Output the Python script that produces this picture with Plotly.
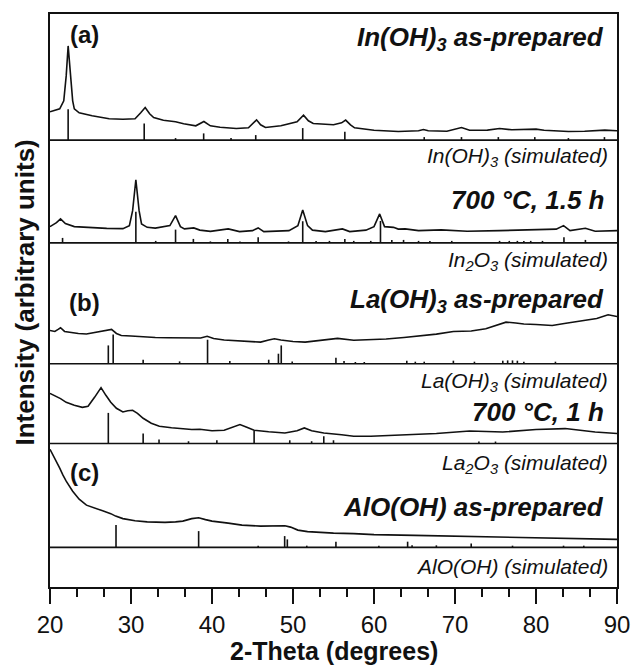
import plotly.graph_objects as go

# ---------------- data (2-theta in degrees, intensity above panel baseline, arb. units) -------------
# Panel baselines (arbitrary vertical offsets of the stacked patterns)
baselines = [447.7, 344.7, 223.7, 143.7, 39.7]
y_top = 574

# In(OH)3 as-prepared  (measured)
inoh_tt = [20.0, 21.2, 21.7, 22.0, 22.24, 22.5, 22.8, 23.0, 23.6, 25.2, 27.3, 29.0, 30.5, 31.2, 31.75, 32.3,
           32.8, 34.0, 35.5, 36.5, 38.0, 39.0, 39.8, 41.0, 43.0, 44.5, 45.0, 45.5, 46.0, 46.6, 48.5, 50.5,
           51.3, 51.9, 52.5, 55.0, 56.0, 56.5, 57.1, 57.6, 60.0, 63.0, 65.5, 66.1, 66.7, 69.0, 70.8, 71.8,
           74.0, 75.5, 77.0, 80.0, 81.0, 84.0, 86.0, 88.5, 90.0]
inoh_py = [111, 108, 100, 75, 45, 75, 100, 108, 112, 115, 118, 118.5, 118, 112, 106.7, 113,
           116.7, 119.5, 121, 123, 125, 120.7, 125, 126.5, 127.7, 127, 123, 119, 124, 126.7, 125, 121,
           114.3, 120, 122.7, 124, 122, 119.3, 124, 127, 129.5, 130.7, 130, 128.7, 130, 130.5, 126.7, 129.5,
           129.3, 127.7, 129, 128.3, 129.5, 130.7, 130.5, 129.3, 130]
inoh_int = [139.3 - v for v in inoh_py]
inoh_sim_tt = [22.24, 31.63, 35.5, 38.97, 42.35, 45.4, 51.2, 56.4, 66.2, 70.8, 75.35, 79.85, 84.0, 88.45]
inoh_sim_int = [31, 16.7, 2, 6.7, 2, 5, 12, 8.3, 3, 3, 3, 3, 2, 3]

# 700 C, 1.5 h  (In2O3)
in700_tt = [20.0, 20.8, 21.3, 21.9, 23.0, 25.0, 27.0, 29.0, 29.8, 30.2, 30.6, 31.0, 31.3, 32.0, 33.0, 34.8,
            35.5, 36.1, 36.6, 37.75, 38.5, 39.8, 42.0, 43.4, 45.0, 45.7, 46.4, 49.5, 50.6, 51.2, 51.8, 52.4,
            54.0, 56.1, 57.0, 59.0, 60.0, 60.7, 61.3, 62.4, 63.0, 63.85, 65.5, 68.3, 71.5, 75.5, 79.5, 82.5,
            83.4, 84.2, 86.1, 87.3, 90.0]
in700_py = [226, 222, 218.3, 223, 226, 227, 227.7, 228, 225, 210, 179, 210, 223.3, 226.7, 227.5, 225,
            215, 226, 228.3, 227.3, 229.5, 230.7, 228.3, 231, 230, 227.3, 231, 230, 225, 209.3, 225, 229.5,
            231, 228.3, 231, 229.5, 226, 213.3, 226, 226.7, 228.5, 228.3, 230, 229.3, 230.7, 230, 229.3, 228.5,
            225, 230, 227.7, 230.7, 230]
in700_int = [242.3 - v for v in in700_py]
in2o3_sim_tt = [21.55, 30.6, 33.05, 35.5, 37.7, 39.8, 41.95, 43.45, 45.7, 49.45, 51.2, 52.85, 54.5, 56.4,
                57.5, 59.6, 60.8, 62.2, 63.65, 65.5, 66.9, 69.6, 75.5, 76.7, 77.7, 78.5, 79.35, 80.8, 83.45, 86.1]
in2o3_sim_int = [5, 31.3, 2, 13.3, 4, 1.5, 4, 1.5, 5.7, 1.5, 21.7, 2, 2, 4,
                 2, 2, 22, 3, 3, 2, 2, 2, 2, 2, 2, 2, 2, 2, 5.7, 3]

# La(OH)3 as-prepared
laoh_tt = [20.0, 20.6, 21.0, 21.3, 21.8, 22.5, 23.5, 24.5, 25.5, 26.3, 27.0, 27.6, 28.2, 28.8, 30.0, 31.5,
           33.0, 34.5, 36.0, 37.5, 38.6, 39.4, 40.2, 41.5, 43.0, 44.5, 46.0, 47.0, 47.7, 48.5, 50.0, 51.5,
           53.0, 54.5, 55.5, 57.5, 59.6, 61.5, 63.7, 65.5, 67.7, 69.8, 72.0, 73.8, 75.0, 76.3, 77.5, 78.5,
           80.0, 82.0, 83.5, 85.0, 86.1, 87.5, 88.9, 90.0]
laoh_py = [330, 331, 329, 327.3, 331, 332, 333, 333.5, 332, 330.5, 329.3, 329, 333, 335, 335.5, 336.5,
           337, 337.3, 337.5, 337.8, 337.5, 335.8, 338, 339.5, 340, 341, 341.7, 339.5, 338.3, 339.5, 341, 341.7,
           340.5, 339, 338, 339.8, 339.5, 338.5, 337, 335.5, 333.7, 331, 330.5, 328.3, 325, 321.7, 322.5, 323.5,
           324, 325, 323, 321, 319.3, 318, 314.3, 316]
laoh_int = [363.3 - v for v in laoh_py]
laoh_sim_tt = [27.2, 27.8, 31.5, 36.0, 39.45, 42.2, 47.0, 48.2, 48.55, 49.9, 55.3, 56.3, 57.7, 58.8,
               64.05, 65.1, 66.2, 69.8, 72.4, 75.9, 76.5, 77.1, 77.7, 78.5, 82.4]
laoh_sim_int = [18.3, 29.3, 4, 2.3, 24, 2.7, 4, 10, 18.3, 2.3, 6, 2.7, 1.7, 1.7,
                3, 2, 2, 3, 2, 3, 3.3, 3.3, 3, 2, 2]

# 700 C, 1 h  (La2O3)
la700_tt = [20.0, 21.0, 21.3, 22.0, 23.0, 24.0, 24.7, 25.5, 26.3, 26.9, 27.5, 28.2, 29.0, 29.6, 30.2, 30.8,
            31.5, 32.5, 33.5, 35.0, 36.5, 37.5, 38.5, 40.0, 41.5, 42.5, 43.45, 44.3, 45.2, 47.0, 49.0, 50.5,
            51.4, 52.3, 53.8, 56.0, 57.5, 59.6, 63.7, 67.7, 71.8, 75.9, 80.0, 83.6, 87.3, 90.0]
la700_py = [393, 397, 398.3, 402, 405, 407, 406, 397, 387.3, 395, 402, 408, 411.7, 410.5, 410, 413,
            418, 423, 426, 427.5, 428.7, 429.3, 429, 430.5, 430, 427, 424.3, 427, 430, 431.5, 432.7, 430.5,
            427.7, 430.5, 432.7, 434.5, 436, 436, 435, 433.3, 430.7, 431.7, 429.3, 428.3, 431.7, 433.3]
la700_int = [443.3 - v for v in la700_py]
la2o3_sim_tt = [27.2, 31.5, 33.46, 37.1, 40.6, 45.2, 49.6, 52.3, 53.8, 55.0, 72.95, 75.0]
la2o3_sim_int = [30.7, 10, 4, 2.3, 3.3, 12.7, 3.3, 2.3, 7.3, 3.3, 2, 2]

# AlO(OH) as-prepared
aloh_tt = [20.0, 20.6, 21.2, 21.6, 22.0, 22.8, 23.6, 24.5, 25.6, 26.5, 27.5, 28.1, 29.0, 30.5, 32.0, 34.2,
           35.5, 36.4, 37.5, 38.35, 39.2, 40.0, 42.0, 43.7, 46.0, 48.2, 49.0, 49.7, 50.6, 51.8, 53.3, 55.0,
           57.5, 60.0, 65.0, 70.0, 75.0, 80.0, 85.0, 90.0]
aloh_py = [449, 458, 468, 475, 481, 491, 499, 505, 508.5, 510.7, 513.5, 516, 518.5, 520.7, 521.8, 522.3,
           521.8, 521, 518.5, 517.7, 519.5, 521, 523, 525, 526, 526.3, 525.7, 527, 530, 531.5, 532.3, 533,
           533.5, 534.5, 535.3, 536, 536.8, 537.3, 538.3, 539.3]
aloh_int = [547.3 - v for v in aloh_py]
aloh_sim_tt = [28.15, 38.35, 45.7, 48.97, 49.3, 51.7, 55.3, 60.6, 64.15, 64.7, 67.7, 72.0, 77.1, 83.4, 85.9]
aloh_sim_int = [22.3, 16.3, 1.7, 11.3, 8, 1.7, 5.7, 1.7, 5.7, 2, 2, 4, 1.7, 1.7, 1.7]

x_ticks = [20, 30, 40, 50, 60, 70, 80, 90]

measured = [(inoh_tt, inoh_int), (in700_tt, in700_int), (laoh_tt, laoh_int),
            (la700_tt, la700_int), (aloh_tt, aloh_int)]
simulated = [(inoh_sim_tt, inoh_sim_int), (in2o3_sim_tt, in2o3_sim_int), (laoh_sim_tt, laoh_sim_int),
             (la2o3_sim_tt, la2o3_sim_int), (aloh_sim_tt, aloh_sim_int)]

bold_labels = ["<i>In(OH)<sub>3</sub> as-prepared</i>", "<i>700 °C, 1.5 h</i>",
               "<i>La(OH)<sub>3</sub> as-prepared</i>", "<i>700 °C, 1 h</i>",
               "<i>AlO(OH) as-prepared</i>"]
bold_label_y = [549, 387.7, 287, 175.3, 80.3]
sim_labels = ["<i>In(OH)<sub>3</sub> (simulated)</i>", "<i>In<sub>2</sub>O<sub>3</sub> (simulated)</i>",
              "<i>La(OH)<sub>3</sub> (simulated)</i>", "<i>La<sub>2</sub>O<sub>3</sub> (simulated)</i>",
              "<i>AlO(OH) (simulated)</i>"]
sim_label_y = [430.3, 326.3, 205.3, 123.7, 20.3]
panel_tags = ["(a)", "(b)", "(c)"]
panel_tag_y = [553, 285, 115]

# ---------------- figure -------------
INK = "#111111"
FONT = "Liberation Sans, Arial, sans-serif"
fig = go.Figure()

for base, (tt, inten) in zip(baselines, measured):
    fig.add_trace(go.Scatter(x=tt, y=[base + v for v in inten], mode="lines",
                             line=dict(color=INK, width=1.6), hoverinfo="skip", showlegend=False))

for base, (tt, inten) in zip(baselines, simulated):
    xs, ys = [], []
    for t, v in zip(tt, inten):
        xs += [t, t, None]
        ys += [base, base + v, None]
    fig.add_trace(go.Scatter(x=xs, y=ys, mode="lines", line=dict(color=INK, width=1.6),
                             hoverinfo="skip", showlegend=False))

for base in baselines:
    fig.add_shape(type="line", xref="x", yref="y", x0=20, x1=90, y0=base, y1=base,
                  line=dict(color=INK, width=1.6))

for txt, yv in zip(bold_labels, bold_label_y):
    fig.add_annotation(text=txt, xref="paper", yref="y", x=0.981, y=yv, xanchor="right", yanchor="middle",
                       showarrow=False, font=dict(family=FONT, size=26, color=INK, weight="bold"))
for txt, yv in zip(sim_labels, sim_label_y):
    fig.add_annotation(text=txt, xref="paper", yref="y", x=0.988, y=yv, xanchor="right", yanchor="middle",
                       showarrow=False, font=dict(family=FONT, size=21, color=INK))
for txt, yv in zip(panel_tags, panel_tag_y):
    fig.add_annotation(text=txt, xref="paper", yref="y", x=0.061, y=yv, xanchor="center", yanchor="middle",
                       showarrow=False, font=dict(family=FONT, size=24, color=INK, weight="bold"))

fig.add_annotation(text="Intensity (arbitrary units)", xref="paper", yref="paper", x=-0.044, y=0.514,
                   textangle=-90, xanchor="center", yanchor="middle", showarrow=False,
                   font=dict(family=FONT, size=26, color=INK, weight="bold"))
fig.add_annotation(text="2-Theta (degrees)", xref="paper", yref="paper", x=0.5, y=-0.1115,
                   xanchor="center", yanchor="middle", showarrow=False, borderpad=0,
                   font=dict(family=FONT, size=25, color=INK, weight="bold"))

fig.update_layout(
    width=642, height=666,
    margin=dict(l=50, r=19, t=13, b=79),
    paper_bgcolor="white", plot_bgcolor="white",
    font=dict(family=FONT, color=INK),
    xaxis=dict(range=[20, 90], tickvals=x_ticks, ticktext=[str(v) for v in x_ticks],
               ticks="outside", ticklen=15, tickwidth=2, tickcolor=INK, ticklabelstandoff=0,
               minor=dict(dtick=10 / 3, tick0=20, ticks="outside", ticklen=8, tickwidth=2, tickcolor=INK),
               showline=True, linewidth=2, linecolor=INK, mirror=True, showgrid=False, zeroline=False,
               tickfont=dict(family=FONT, size=24, color=INK)),
    yaxis=dict(range=[0, y_top], showticklabels=False, ticks="", showline=True, linewidth=2,
               linecolor=INK, mirror=True, showgrid=False, zeroline=False),
)

fig.write_html("out.html")
